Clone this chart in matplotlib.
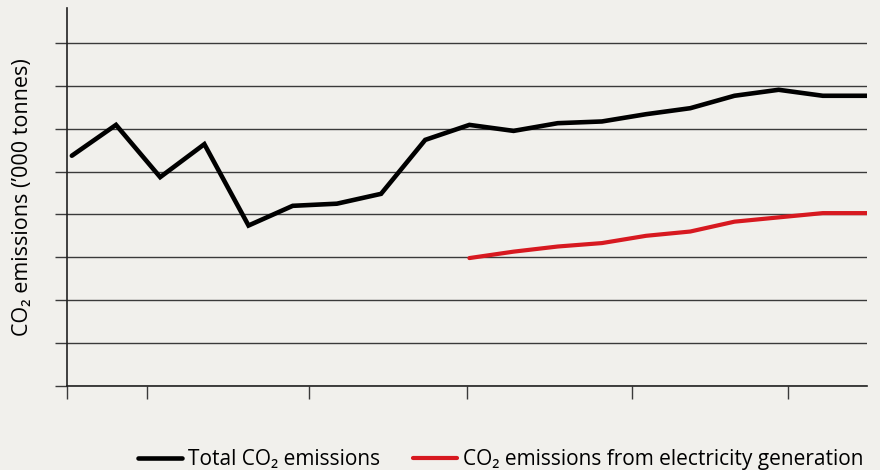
import matplotlib.pyplot as plt
import numpy as np

plt.rcParams['font.family'] = ['Open Sans', 'DejaVu Sans']

# annual points, index 0..18
years = np.arange(19)
total_co2 = [5.37, 6.09, 4.87, 5.64, 3.74, 4.20, 4.25, 4.48, 5.74, 6.09,
             5.95, 6.13, 6.17, 6.34, 6.48, 6.77, 6.91, 6.77, 6.77]
elec_years = np.arange(9, 19)
elec_co2 = [2.98, 3.13, 3.25, 3.33, 3.50, 3.60, 3.83, 3.93, 4.03, 4.03]

x_ticks = [-0.11, 1.70, 5.37, 8.95, 12.68, 16.22]
y_ticks = np.arange(0, 9)

bg = '#f1f0ec'
fig = plt.figure(figsize=(8.8, 4.7), dpi=100, facecolor=bg)
ax = fig.add_axes([0.0761, 0.1794, 0.9091, 0.8036], facecolor=bg)

ax.plot(years, total_co2, color='black', lw=3.3, solid_joinstyle='miter',
        solid_capstyle='round', label='Total CO\u2082 emissions')
ax.plot(elec_years, elec_co2, color='#d71920', lw=3.0, solid_capstyle='round',
        label='CO\u2082 emissions from electricity generation')

ax.set_xlim(-0.11, 18.0)
ax.set_ylim(0, 8.82)
ax.set_xticks(x_ticks)
ax.set_yticks(y_ticks)
ax.set_xticklabels([])
ax.set_yticklabels([])
ax.grid(axis='y', color='#3a3a3a', lw=1.0)
ax.set_axisbelow(True)
ax.tick_params(axis='both', direction='out', length=9, width=1.0, color='#3a3a3a')

for s in ['top', 'right']:
    ax.spines[s].set_visible(False)
for s in ['left', 'bottom']:
    ax.spines[s].set_color('#222222')
    ax.spines[s].set_linewidth(1.2)

ax.set_ylabel("CO\u2082 emissions (\u2019000 tonnes)", fontsize=15.5, labelpad=12)

fig.legend(loc='lower right', bbox_to_anchor=(1.003, -0.04), ncol=2, frameon=False,
           fontsize=15, handlelength=2.1, handletextpad=0.3, columnspacing=1.6)

fig.savefig('out.png', dpi=100, facecolor=bg)
